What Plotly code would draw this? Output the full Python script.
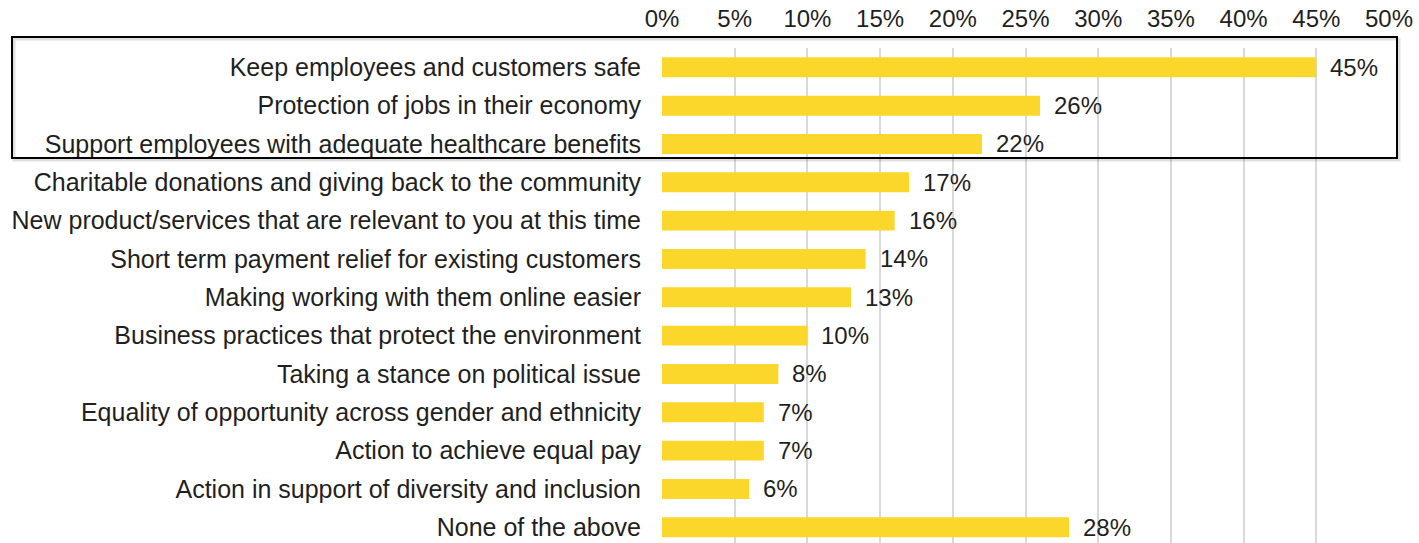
import plotly.graph_objects as go

categories = [
    "Keep employees and customers safe",
    "Protection of jobs in their economy",
    "Support employees with adequate healthcare benefits",
    "Charitable donations and giving back to the community",
    "New product/services that are relevant to you at this time",
    "Short term payment relief for existing customers",
    "Making working with them online easier",
    "Business practices that protect the environment",
    "Taking a stance on political issue",
    "Equality of opportunity across gender and ethnicity",
    "Action to achieve equal pay",
    "Action in support of diversity and inclusion",
    "None of the above",
]
values = [45, 26, 22, 17, 16, 14, 13, 10, 8, 7, 7, 6, 28]
tick_vals = [0, 5, 10, 15, 20, 25, 30, 35, 40, 45, 50]
tick_text = [f"{v}%" for v in tick_vals]
value_labels = [f"{v}%" for v in values]

W, H = 1419, 543
L, R, T, B = 662, 30, 48, 0
TEXT = "#1f1f1f"
FONT = "Liberation Sans, Arial, sans-serif"

fig = go.Figure()
fig.add_trace(go.Bar(
    x=values, y=categories, orientation="h",
    marker=dict(color="#FBD62B", line=dict(width=0)),
    hoverinfo="x+y",
))

for cat, v, lab in zip(categories, values, value_labels):
    fig.add_annotation(x=v, y=cat, text=lab, showarrow=False,
                       xanchor="left", yanchor="middle", xshift=12,
                       font=dict(size=24, color=TEXT, family=FONT))

plot_h = H - T - B
row_px = 38.33
top_idx = -0.5 + (67 - row_px / 2 - T) / row_px
bottom_idx = top_idx + plot_h / row_px

fig.update_layout(
    width=W, height=H,
    margin=dict(l=L, r=R, t=T, b=B, pad=0, autoexpand=False),
    paper_bgcolor="white", plot_bgcolor="white",
    bargap=0.48,
    showlegend=False,
    font=dict(family=FONT, size=24, color=TEXT),
    xaxis=dict(
        side="top", range=[0, 50], tickvals=tick_vals, ticktext=tick_text,
        showgrid=True, gridcolor="#D9D9D9", gridwidth=1.5,
        zeroline=False, showline=False, ticks="", automargin=False,
        ticklabelstandoff=15,
        tickfont=dict(size=24, color=TEXT, family=FONT),
    ),
    yaxis=dict(
        categoryorder="array", categoryarray=categories,
        range=[bottom_idx, top_idx],
        showgrid=False, zeroline=False, showline=False, ticks="", automargin=False,
        ticklabelstandoff=20,
        tickfont=dict(size=25, color=TEXT, family=FONT),
    ),
)

pw = W - L - R
def px_x(p):
    return (p - L) / pw
def px_y(p):
    return (H - B - p) / plot_h

# soft shadow
fig.add_shape(type="rect", xref="paper", yref="paper",
              x0=px_x(14), x1=px_x(1399), y0=px_y(160), y1=px_y(39),
              line=dict(color="rgba(0,0,0,0.12)", width=3), layer="above")
fig.add_shape(type="rect", xref="paper", yref="paper",
              x0=px_x(12), x1=px_x(1397), y0=px_y(158), y1=px_y(37),
              line=dict(color="black", width=2), layer="above")

fig.write_html("out.html", config={"displayModeBar": False},
               post_script="document.body.style.margin='0px';document.body.style.overflow='hidden';")
